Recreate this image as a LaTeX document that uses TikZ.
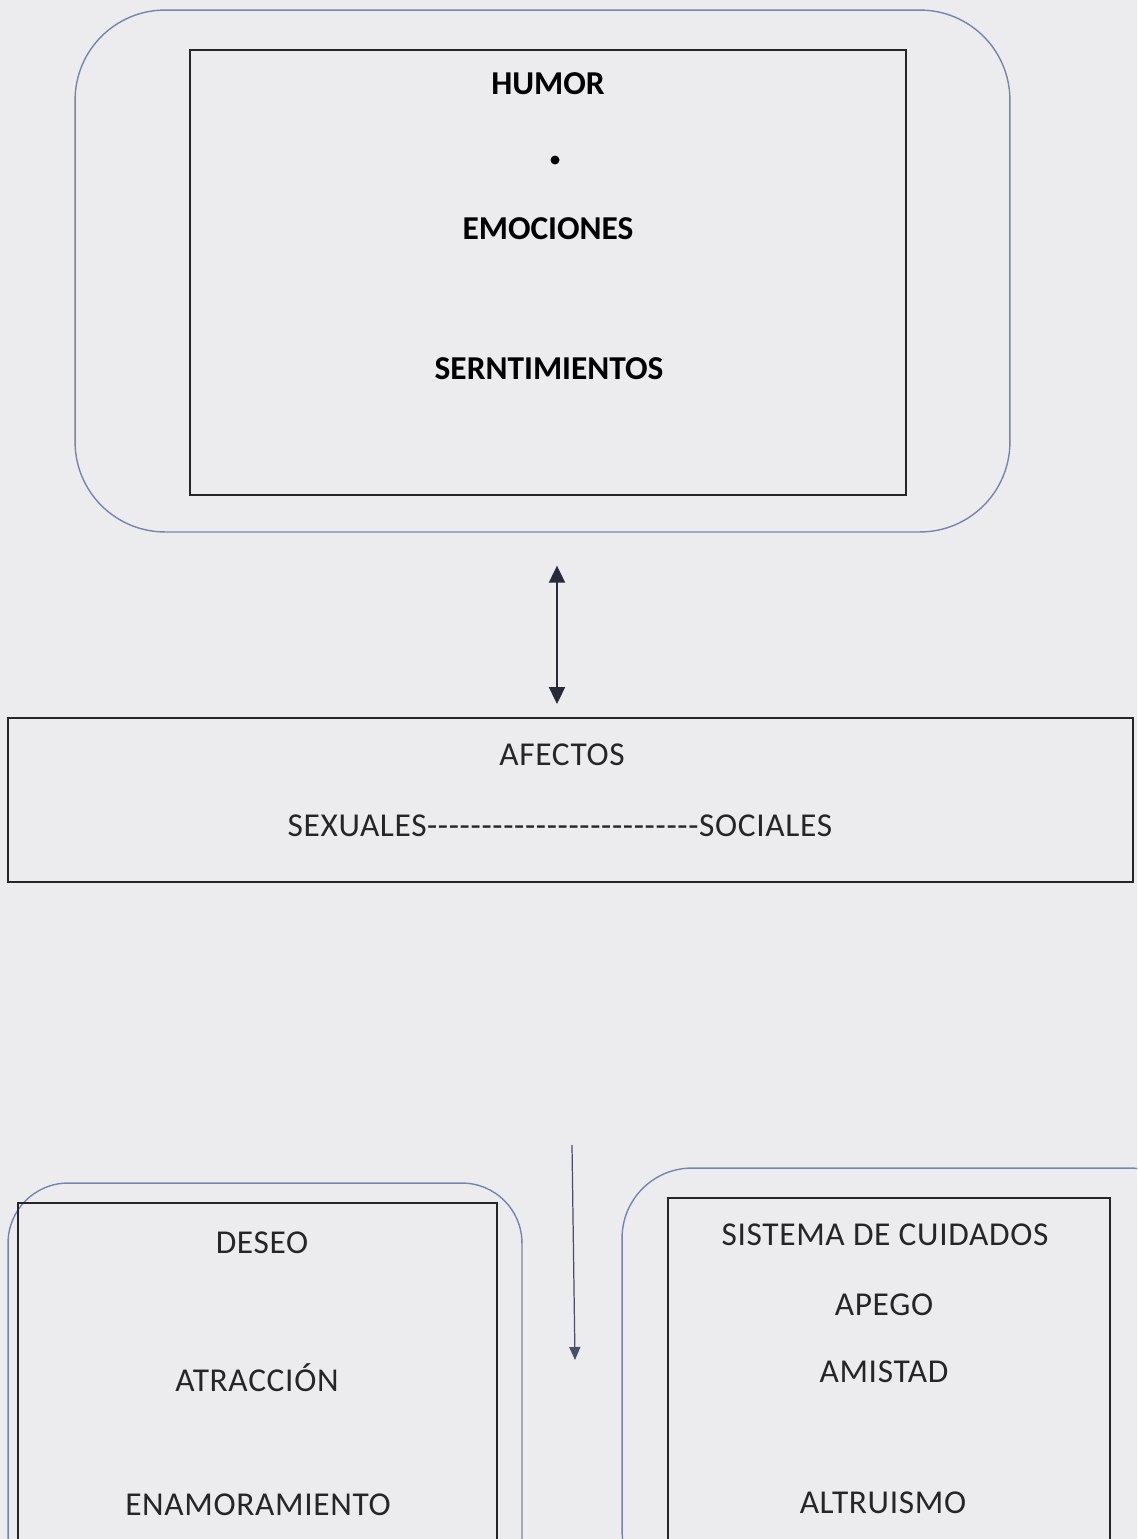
\documentclass[tikz,border=0pt]{standalone}
\usepackage{fontspec}
\setmainfont{Carlito}
\usetikzlibrary{arrows.meta}

\definecolor{paper}{RGB}{236,236,238}
\definecolor{frameblue}{RGB}{120,132,175}
\definecolor{arrowink}{RGB}{40,42,60}

\tikzset{
  outerbox/.style={draw=frameblue, line width=0.8pt, rounded corners=#1},
  innerbox/.style={draw=black!85, line width=1.1pt},
  bigtxt/.style={font=\fontsize{19}{22}\selectfont\bfseries, inner sep=0pt},
  txt/.style={font=\addfontfeatures{LetterSpace=2}\fontsize{19}{22}\selectfont, text=black!85, inner sep=0pt},
  biarrow/.style={draw=arrowink, line width=1.1pt, {Triangle[width=0.32cm,length=0.34cm]}-{Triangle[width=0.32cm,length=0.34cm]}},
  downarrow/.style={draw=frameblue!60!black, line width=0.7pt, -{Triangle[width=0.22cm,length=0.26cm]}}
}

\begin{document}
\begin{tikzpicture}[x=0.02cm, y=-0.02cm]

\fill[paper] (0,0) rectangle (1137,1539);
\useasboundingbox (0,0) rectangle (1137,1539);
\clip (0,0) rectangle (1137,1539);

% upper block
\node[outerbox=1.8cm, minimum width=18.7cm, minimum height=10.44cm] (outer) at (542.5,271) {};
\node[innerbox, minimum width=14.32cm, minimum height=8.9cm] (inner) at (548,272.5) {};
\node[bigtxt] (humor) at (548,84) {HUMOR};
\node[circle, fill=black, inner sep=0pt, minimum size=0.18cm] (dot) at (555,160) {};
\node[bigtxt] (emo) at (548,229) {EMOCIONES};
\node[bigtxt] (sent) at (549,369) {SERNTIMIENTOS};

% middle band
\node[innerbox, minimum width=22.5cm, minimum height=3.28cm] (afect) at (570.5,800) {};
\node[txt] (afectos) at (562,755) {AFECTOS};
\node[txt] (polos) at (560,826) {SEXUALES\foreach \k in {1,...,25}{-{}}SOCIALES};

\draw[biarrow, shorten <=0.66cm, shorten >=0.26cm] ([xshift=0.29cm]outer.south) -- ([xshift=0.29cm]outer.south |- afect.north);

\coordinate (d1) at (572,1145);
\coordinate (d2) at (575,1360);
\draw[downarrow] (d1) -- (d2);

% lower left
\node[outerbox=1.2cm, minimum width=10.28cm, minimum height=8.34cm] (sexbox) at (265,1391.5) {};
\node[innerbox, minimum width=9.58cm, minimum height=7.94cm] (sexin) at (257.5,1401.5) {};
\node[txt] (deseo) at (262,1243) {DESEO};
\node[txt] (atrac) at (257,1378) {ATRACCIÓN};
\node[txt] (enam) at (258,1505) {ENAMORAMIENTO};

% lower right
\node[outerbox=1.4cm, minimum width=11.56cm, minimum height=8.64cm] (socbox) at (911,1384) {};
\node[innerbox, minimum width=8.84cm, minimum height=8.04cm] (socin) at (889,1399) {};
\node[txt] (cuid) at (885,1235) {SISTEMA DE CUIDADOS};
\node[txt] (apego) at (884,1305) {APEGO};
\node[txt] (amist) at (884,1372) {AMISTAD};
\node[txt] (altru) at (883,1503) {ALTRUISMO};

\end{tikzpicture}
\end{document}
